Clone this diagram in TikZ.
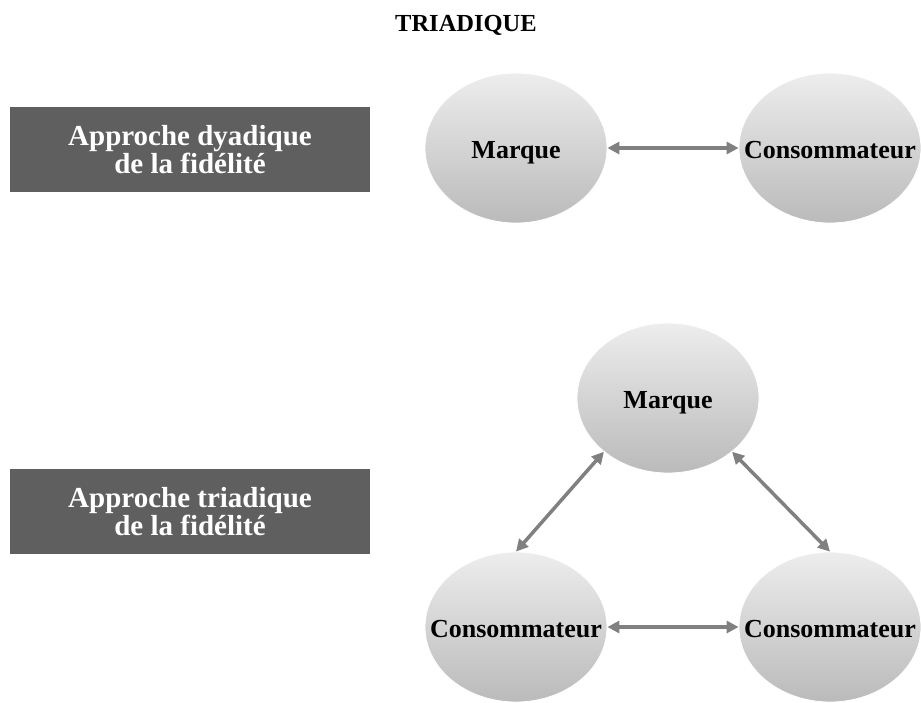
\documentclass[tikz,border=0pt]{standalone}
\usepackage{fontspec}
\setmainfont{Liberation Serif}
\usetikzlibrary{arrows.meta,shapes.geometric}
\definecolor{boxgray}{HTML}{5F5F5F}
\definecolor{arrgray}{HTML}{808080}
\tikzset{
  bubble/.style={ellipse, minimum width=182pt, minimum height=150pt, inner sep=0pt,
    top color=black!7, bottom color=black!27, draw=white, line width=0.8pt,
    text height=20pt, text depth=0pt,
    font=\fontsize{26}{28}\selectfont\bfseries, text=black},
  darkbox/.style={rectangle, fill=boxgray, minimum width=360pt, minimum height=85pt, inner sep=0pt,
    align=center, text=white, font=\fontsize{29}{28}\selectfont\bfseries},
  link/.style={draw=arrgray, line width=3.5pt, {Triangle[length=12pt,width=12pt]}-{Triangle[length=12pt,width=12pt]}},
  heading/.style={font=\fontsize{24.5}{26}\selectfont\bfseries}
}
\begin{document}
\begin{tikzpicture}[x=1pt,y=-1pt]
\useasboundingbox (0,0) rectangle (921,702);
\node[heading] (title) at (466,25) {TRIADIQUE};
% top row
\node[darkbox] (box1) at (190,149.5) {Approche dyadique\\de la fidélité};
\node[bubble] (m1) at (516,148) {\makebox[0pt]{Marque}};
\node[bubble] (c1) at (830,148) {\makebox[0pt]{Consommateur}};
\draw[link] (m1.east) -- (c1.west);
% bottom
\node[darkbox] (box2) at (190,511.5) {Approche triadique\\de la fidélité};
\node[bubble] (m2) at (668,398) {\makebox[0pt]{Marque}};
\node[bubble] (c2) at (516,627) {\makebox[0pt]{Consommateur}};
\node[bubble] (c3) at (830,627) {\makebox[0pt]{Consommateur}};
\draw[link] (m2.220) -- (c2.90);
\draw[link] (m2.320) -- (c3.90);
\draw[link] (c2.east) -- (c3.west);
\end{tikzpicture}
\end{document}
